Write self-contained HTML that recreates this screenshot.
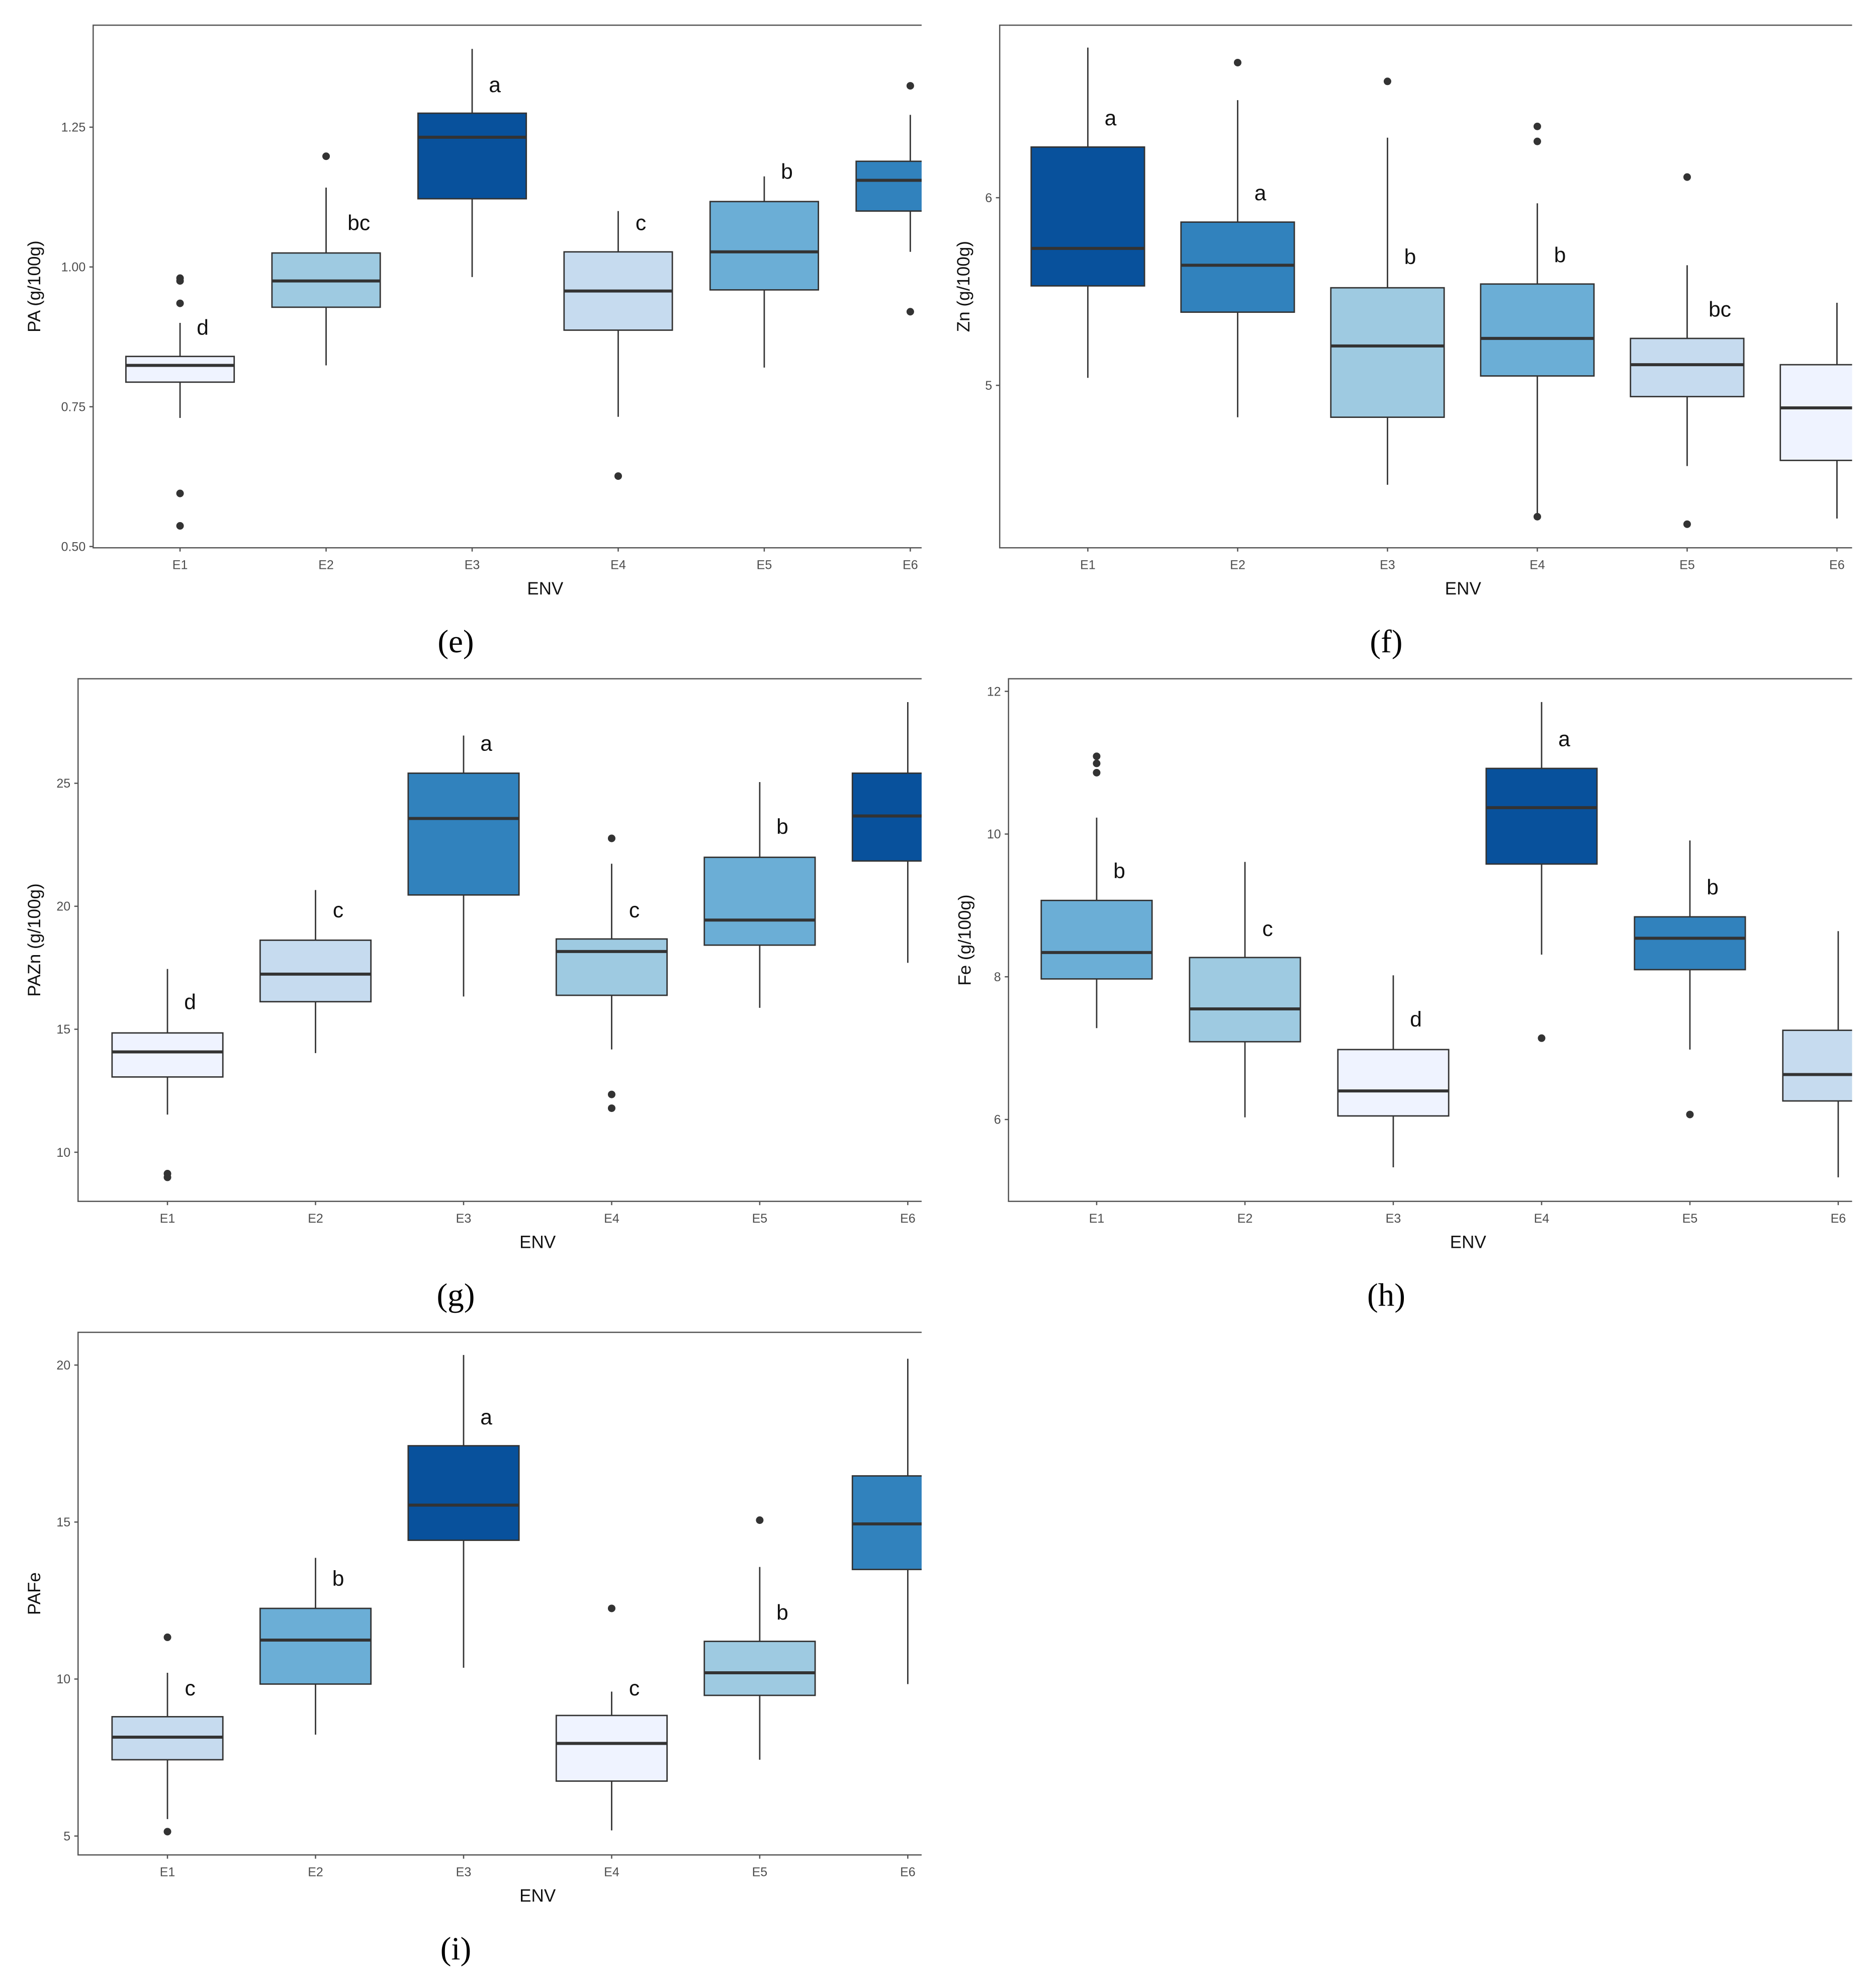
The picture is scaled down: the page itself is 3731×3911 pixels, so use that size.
<!DOCTYPE html>
<html><head><meta charset="utf-8"><style>
html,body{margin:0;padding:0;background:#fff;}
svg{display:block;}
</style></head><body>
<svg id="fig" xmlns="http://www.w3.org/2000/svg" width="3731" height="3911" viewBox="0 0 1490 1562" preserveAspectRatio="none" font-family="Liberation Sans, sans-serif">
<rect x="0" y="0" width="1490" height="1562" fill="#fff"/>
</svg>
<script>
const categories = ['E1','E2','E3','E4','E5','E6'];
// panel e: PA
const paLo=[0.73,0.824,0.982,0.732,0.82,1.027];
const paQ1=[0.794,0.928,1.122,0.887,0.959,1.10];
const paMed=[0.824,0.975,1.232,0.957,1.027,1.155];
const paQ3=[0.840,1.025,1.275,1.027,1.117,1.189];
const paHi=[0.90,1.142,1.39,1.10,1.162,1.272];
const paOut=[[0.98,0.975,0.935,0.595,0.537],[1.198],[],[0.626],[],[1.324,0.92]];
const paLetters=['d','bc','a','c','b',''];
const paLetterY=[0.89,1.077,1.324,1.077,1.169,1.3];
const paTicks=[0.50,0.75,1.00,1.25];
const paTickLabels=['0.50','0.75','1.00','1.25'];
// panel f: Zn
const znLo=[5.04,4.83,4.47,4.30,4.57,4.29];
const znQ1=[5.53,5.39,4.83,5.05,4.94,4.60];
const znMed=[5.73,5.64,5.21,5.25,5.11,4.88];
const znQ3=[6.27,5.87,5.52,5.54,5.25,5.11];
const znHi=[6.80,6.52,6.32,5.97,5.64,5.44];
const znOut=[[],[6.72],[6.62],[6.38,6.30,4.30],[6.11,4.26],[]];
const znLetters=['a','a','b','b','bc',''];
const znLetterY=[6.42,6.02,5.68,5.69,5.40,5.6];
const znTicks=[5,6];
const znTickLabels=['5','6'];
// panel g: PAZn
const pznLo=[11.53,14.03,16.33,14.18,15.87,17.70];
const pznQ1=[13.06,16.12,20.46,16.38,18.42,21.84];
const pznMed=[14.08,17.24,23.57,18.16,19.44,23.67];
const pznQ3=[14.85,18.62,25.41,18.67,21.99,25.41];
const pznHi=[17.45,20.66,26.94,21.73,25.05,28.3];
const pznOut=[[9.13,8.98],[],[],[22.76,12.35,11.79],[],[]];
const pznLetters=['d','c','a','c','b',''];
const pznLetterY=[16.07,19.8,26.58,19.8,23.2,27];
const pznTicks=[10,15,20,25];
const pznTickLabels=['10','15','20','25'];
// panel h: Fe
const feLo=[7.28,6.03,5.33,8.31,6.98,5.19];
const feQ1=[7.97,7.09,6.05,9.58,8.10,6.26];
const feMed=[8.34,7.55,6.40,10.37,8.54,6.63];
const feQ3=[9.07,8.27,6.98,10.92,8.84,7.25];
const feHi=[10.23,9.61,8.02,11.85,9.91,8.64];
const feOut=[[11.09,10.99,10.86],[],[],[7.14],[6.07],[]];
const feLetters=['b','c','d','a','b',''];
const feLetterY=[9.47,8.66,7.39,11.32,9.24,9];
const feTicks=[6,8,10,12];
const feTickLabels=['6','8','10','12'];
// panel i: PAFe
const pfeLo=[5.54,8.23,10.36,5.18,7.43,9.84];
const pfeQ1=[7.43,9.84,14.42,6.75,9.48,13.49];
const pfeMed=[8.15,11.24,15.54,7.95,10.2,14.94];
const pfeQ3=[8.80,12.25,17.43,8.84,11.2,16.47];
const pfeHi=[10.2,13.86,20.32,9.6,13.57,20.2];
const pfeOut=[[11.33,5.14],[],[],[12.25],[15.06],[]];
const pfeLetters=['c','b','a','c','b',''];
const pfeLetterY=[9.68,13.17,18.31,9.68,12.09,19];
const pfeTicks=[5,10,15,20];
const pfeTickLabels=['5','10','15','20'];

const NS='http://www.w3.org/2000/svg';
const svg=document.getElementById('fig');
function mk(tag,attrs,parent){const e=document.createElementNS(NS,tag);for(const k in attrs)e.setAttribute(k,attrs[k]);(parent||svg).appendChild(e);return e;}

function panel(o){
  const g=mk('g',{});
  
  
  const clipId='clip-'+o.id;
  const cp=mk('clipPath',{id:clipId},g);
  mk('rect',{x:o.x0-1,y:o.y0-1,width:o.x1-o.x0+1,height:o.y1-o.y0+2},cp);
  const yS=v=>o.yA+(v-o.vA)*(o.yB-o.yA)/(o.vB-o.vA);
  const xS=i=>o.xs0+i*o.dx;
  const plot=mk('g',{'clip-path':'url(#'+clipId+')'},g);
  
  
  mk('rect',{x:o.x0,y:o.y0,width:(o.x1-o.x0)+20,height:o.y1-o.y0,fill:'none',stroke:'#555','stroke-width':1},plot);
  const bw=o.bw;
  categories.forEach((c,i)=>{
    const x=xS(i);
    const bg=mk('g',{},plot);
    
    
    mk('line',{x1:x,x2:x,y1:yS(o.lo[i]),y2:yS(o.q1[i]),stroke:'#333','stroke-width':1.1},bg);
    mk('line',{x1:x,x2:x,y1:yS(o.q3[i]),y2:yS(o.hi[i]),stroke:'#333','stroke-width':1.1},bg);
    mk('rect',{x:x-bw/2,y:yS(o.q3[i]),width:bw,height:yS(o.q1[i])-yS(o.q3[i]),fill:o.colors[i],stroke:'#333','stroke-width':1.1},bg);
    mk('line',{x1:x-bw/2,x2:x+bw/2,y1:yS(o.med[i]),y2:yS(o.med[i]),stroke:'#333','stroke-width':2.4},bg);
    o.out[i].forEach(v=>{
      const p=mk('circle',{cx:x,cy:yS(v),r:3,fill:'#333'},bg);
      
      
    });
    if(o.letters[i]){
      const L=o.letters[i].length;
      const t=mk('text',{x:x+10+8*L,y:yS(o.letterY[i])+5,'font-size':17,fill:'#111','text-anchor':'middle'},bg);
      
      
      t.textContent=o.letters[i];
    }
  });
  o.ticks.forEach((v,k)=>{
    const y=yS(v);
    mk('line',{x1:o.x0-3,x2:o.x0,y1:y,y2:y,stroke:'#555'},g);
    const t=mk('text',{x:o.x0-6,y:y+3.5,'font-size':10,fill:'#4d4d4d','text-anchor':'end'},g);
    
    
    t.textContent=o.tickLabels[k];
  });
  categories.forEach((c,i)=>{
    const x=xS(i);
    mk('line',{x1:x,x2:x,y1:o.y1,y2:o.y1+3,stroke:'#555'},g);
    const t=mk('text',{x:x,y:o.y1+17,'font-size':10,fill:'#4d4d4d','text-anchor':'middle'},g);
    
    
    t.textContent=c;
  });
  const xt=mk('text',{x:o.envX,y:o.y1+37,'font-size':14,fill:'#111','text-anchor':'middle'},g);
  
  
  xt.textContent='ENV';
  const cy=(o.y0+o.y1)/2;
  const yt=mk('text',{x:o.ylabX,y:cy,'font-size':14,fill:'#111','text-anchor':'middle',transform:'rotate(-90 '+o.ylabX+' '+cy+')'},g);
  
  
  yt.textContent=o.ylab;
  const cap=mk('text',{x:o.capX,y:o.y1+83,'font-size':26,'font-family':'Liberation Serif, serif',fill:'#000','text-anchor':'middle'},g);
  
  
  cap.textContent='('+o.id+')';
}
const C=['#EFF3FF','#C6DBEF','#9ECAE1','#6BAED6','#3182BD','#08519C'];
panel({id:'e',x0:74,x1:732,y0:20,y1:435,xs0:143,dx:116,bw:86,yA:434,vA:0.5,yB:101,vB:1.25,
 lo:paLo,q1:paQ1,med:paMed,q3:paQ3,hi:paHi,out:paOut,letters:paLetters,letterY:paLetterY,ticks:paTicks,tickLabels:paTickLabels,
 colors:[C[0],C[2],C[5],C[1],C[3],C[4]],ylab:'PA (g/100g)',ylabX:32,envX:433,capX:362});
panel({id:'f',x0:794,x1:1471,y0:20,y1:435,xs0:864,dx:119,bw:90,yA:306,vA:5,yB:157,vB:6,
 lo:znLo,q1:znQ1,med:znMed,q3:znQ3,hi:znHi,out:znOut,letters:znLetters,letterY:znLetterY,ticks:znTicks,tickLabels:znTickLabels,
 colors:[C[5],C[4],C[2],C[3],C[1],C[0]],ylab:'Zn (g/100g)',ylabX:770,envX:1162,capX:1101});
panel({id:'g',x0:62,x1:732,y0:539,y1:954,xs0:133,dx:117.6,bw:88,yA:915,vA:10,yB:622,vB:25,
 lo:pznLo,q1:pznQ1,med:pznMed,q3:pznQ3,hi:pznHi,out:pznOut,letters:pznLetters,letterY:pznLetterY,ticks:pznTicks,tickLabels:pznTickLabels,
 colors:[C[0],C[1],C[4],C[2],C[3],C[5]],ylab:'PAZn (g/100g)',ylabX:32,envX:427,capX:362});
panel({id:'h',x0:801,x1:1471,y0:539,y1:954,xs0:871,dx:117.8,bw:88,yA:889,vA:6,yB:549,vB:12,
 lo:feLo,q1:feQ1,med:feMed,q3:feQ3,hi:feHi,out:feOut,letters:feLetters,letterY:feLetterY,ticks:feTicks,tickLabels:feTickLabels,
 colors:[C[3],C[2],C[0],C[5],C[4],C[1]],ylab:'Fe (g/100g)',ylabX:771,envX:1166,capX:1101});
panel({id:'i',x0:62,x1:732,y0:1058,y1:1473,xs0:133,dx:117.6,bw:88,yA:1458,vA:5,yB:1084,vB:20,
 lo:pfeLo,q1:pfeQ1,med:pfeMed,q3:pfeQ3,hi:pfeHi,out:pfeOut,letters:pfeLetters,letterY:pfeLetterY,ticks:pfeTicks,tickLabels:pfeTickLabels,
 colors:[C[1],C[3],C[5],C[0],C[2],C[4]],ylab:'PAFe',ylabX:32,envX:427,capX:362});
</script>
</body></html>
